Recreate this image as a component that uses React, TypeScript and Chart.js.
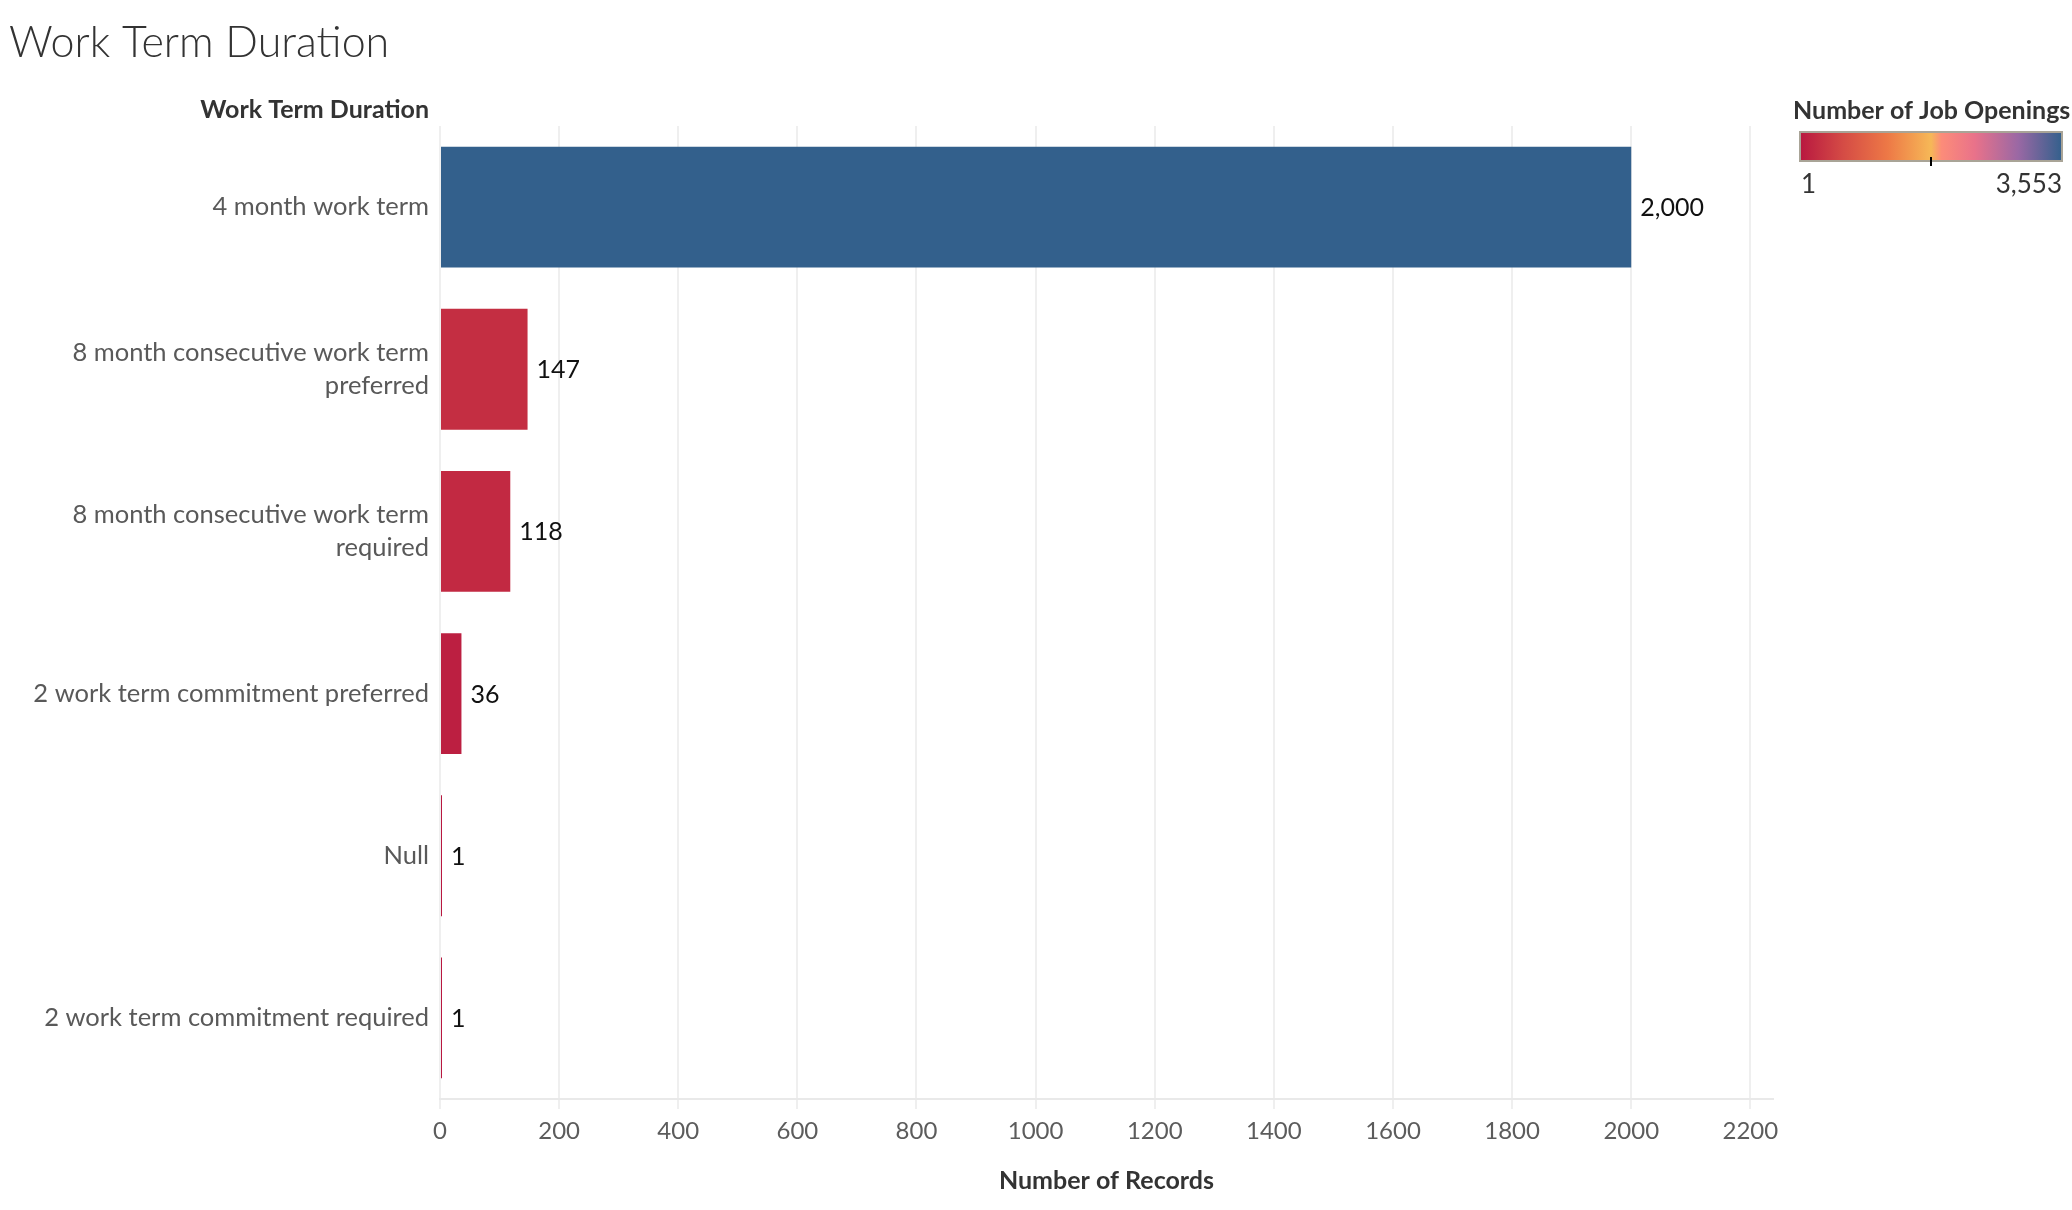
import React, { useEffect, useRef } from 'react';
import { Chart, registerables } from 'chart.js';

Chart.register(...registerables);

// ---------- data ----------
const categories: (string | string[])[] = [
  '4 month work term',
  ['8 month consecutive work term', 'preferred'],
  ['8 month consecutive work term', 'required'],
  '2 work term commitment preferred',
  'Null',
  '2 work term commitment required',
];
const numberOfRecords = [2000, 147, 118, 36, 1, 1];
const jobOpenings = [3553, 250, 200, 80, 1, 1];
const xTickValues = [0, 200, 400, 600, 800, 1000, 1200, 1400, 1600, 1800, 2000, 2200];
const legendRange = [1, 3553];

const chartTitle = 'Work Term Duration';
const rowHeader = 'Work Term Duration';
const xAxisTitle = 'Number of Records';
const legendTitle = 'Number of Job Openings';

// ---------- style ----------
const FONT = 'Lato, "Open Sans", sans-serif';
const gradientStops: [number, string][] = [
  [0, '#b81840'],
  [0.167, '#d54c45'],
  [0.333, '#ed7846'],
  [0.5, '#f6b857'],
  [0.54, '#fc8c79'],
  [0.667, '#e9728a'],
  [0.833, '#9a68a4'],
  [1, '#33608c'],
];

function hexToRgb(h: string): number[] {
  const n = parseInt(h.slice(1), 16);
  return [(n >> 16) & 255, (n >> 8) & 255, n & 255];
}

function colorFor(v: number): string {
  const t = Math.max(0, Math.min(1, (v - legendRange[0]) / (legendRange[1] - legendRange[0])));
  for (let i = 0; i < gradientStops.length - 1; i++) {
    const [p0, c0] = gradientStops[i];
    const [p1, c1] = gradientStops[i + 1];
    if (t >= p0 && t <= p1) {
      const f = (t - p0) / (p1 - p0);
      const a = hexToRgb(c0);
      const b = hexToRgb(c1);
      const r = a.map((x, k) => Math.round(x + (b[k] - x) * f));
      return `rgb(${r[0]},${r[1]},${r[2]})`;
    }
  }
  return gradientStops[gradientStops.length - 1][1];
}

const decorPlugin = {
  id: 'decor',
  afterDraw(chart: any) {
    const ctx: CanvasRenderingContext2D = chart.ctx;
    ctx.save();
    // main title
    ctx.font = `300 43px ${FONT}`;
    ctx.fillStyle = '#333333';
    ctx.textAlign = 'left';
    ctx.textBaseline = 'middle';
    ctx.fillText(chartTitle, 9, 43);

    // row header
    ctx.font = `bold 25px ${FONT}`;
    ctx.fillStyle = '#333333';
    ctx.textAlign = 'right';
    ctx.fillText(rowHeader, chart.scales.y.right - 11, 110);

    // value labels
    const meta = chart.getDatasetMeta(0);
    ctx.font = `25px ${FONT}`;
    ctx.fillStyle = '#111111';
    ctx.textAlign = 'left';
    meta.data.forEach((bar: any, i: number) => {
      ctx.fillText(numberOfRecords[i].toLocaleString('en-US'), bar.x + 9, bar.y + 1);
    });

    // legend
    const lx = 1800, ly = 132, lw = 262, lh = 29;
    ctx.font = `bold 25px ${FONT}`;
    ctx.fillStyle = '#333333';
    ctx.textAlign = 'left';
    ctx.fillText(legendTitle, 1793, 111);
    const g = ctx.createLinearGradient(lx, 0, lx + lw, 0);
    gradientStops.forEach(([p, c]) => g.addColorStop(p, c));
    ctx.fillStyle = g;
    ctx.fillRect(lx, ly, lw, lh);
    ctx.strokeStyle = '#a9a497';
    ctx.lineWidth = 2;
    ctx.strokeRect(lx, ly, lw, lh);
    ctx.strokeStyle = '#000000';
    ctx.lineWidth = 2;
    ctx.beginPath();
    ctx.moveTo(lx + lw / 2, ly + lh - 4);
    ctx.lineTo(lx + lw / 2, ly + lh + 5);
    ctx.stroke();
    ctx.font = `26px ${FONT}`;
    ctx.fillStyle = '#333333';
    ctx.textAlign = 'left';
    ctx.fillText(legendRange[0].toLocaleString('en-US'), lx + 1, 185);
    ctx.textAlign = 'right';
    ctx.fillText(legendRange[1].toLocaleString('en-US'), lx + lw, 185);
    ctx.restore();
  },
};

export default function App() {
  const ref = useRef<HTMLCanvasElement | null>(null);

  useEffect(() => {
    if (!ref.current) return;
    const chart = new Chart(ref.current, {
      type: 'bar',
      data: {
        labels: categories,
        datasets: [
          {
            data: numberOfRecords,
            backgroundColor: jobOpenings.map(colorFor),
            borderWidth: 0,
            barPercentage: 1,
            categoryPercentage: 0.745,
            minBarLength: 2,
          },
        ],
      },
      options: {
        indexAxis: 'y',
        animation: false,
        responsive: true,
        maintainAspectRatio: false,
        layout: { padding: { top: 126, right: 299, bottom: 0, left: 0 } },
        plugins: {
          legend: { display: false },
          tooltip: { enabled: false },
          title: { display: false },
        },
        scales: {
          x: {
            type: 'linear',
            position: 'bottom',
            min: 0,
            max: 2238,
            afterBuildTicks: (scale: any) => {
              scale.ticks = xTickValues.map((v) => ({ value: v }));
            },
            afterFit: (scale: any) => {
              scale.height = 111;
            },
            grid: {
              color: '#efefef',
              lineWidth: 2,
              drawTicks: true,
              tickLength: 10,
              tickColor: '#efefef',
            },
            border: { display: true, color: '#e9e9e9', width: 2 },
            ticks: {
              padding: 8,
              color: '#5c5c5c',
              font: { family: FONT, size: 24 },
              callback: (v: any) => String(v),
              maxRotation: 0,
              autoSkip: false,
            },
            title: {
              display: true,
              text: xAxisTitle,
              color: '#333333',
              font: { family: FONT, size: 25, weight: 'bold' },
              padding: { top: 0, bottom: 14 },
            },
          },
          y: {
            type: 'category',
            afterFit: (scale: any) => {
              scale.width = 440;
            },
            grid: { display: false, drawTicks: false },
            border: { display: false },
            ticks: {
              padding: 11,
              color: '#595959',
              font: { family: FONT, size: 25.5, lineHeight: 1.3 },
              autoSkip: false,
            },
          },
        },
      },
      plugins: [decorPlugin],
    } as any);
    return () => chart.destroy();
  }, []);

  return (
    <div
      style={{
        position: 'absolute',
        left: 0,
        top: 0,
        width: '2072px',
        height: '1210px',
        background: '#ffffff',
      }}
    >
      <canvas ref={ref} />
    </div>
  );
}
